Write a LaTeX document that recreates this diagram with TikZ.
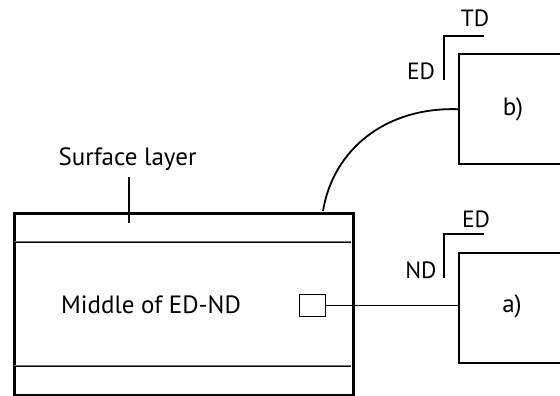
\documentclass[tikz,border=0pt]{standalone}
\usepackage{fontspec}
\setmainfont{PT Sans}
\begin{document}
\begin{tikzpicture}[x=1pt,y=-1pt,
  big/.style={font=\fontsize{25}{30}\selectfont, inner sep=0pt, anchor=base},
  lbl/.style={font=\fontsize{23.5}{28}\selectfont, inner sep=0pt, anchor=base},
  plbl/.style={font=\fontsize{25}{30}\selectfont, inner sep=0pt, anchor=base},
  thin/.style={line width=1.8pt},
  panel/.style={draw, line width=2.4pt, rectangle, inner sep=0pt},
]
\useasboundingbox (0,0) rectangle (560,396);
\clip (0,0) rectangle (560,396);
\fill[white] (0,0) rectangle (560,396);
% big box
\node[draw, line width=3.4pt, rectangle, inner sep=0pt, minimum width=339pt, minimum height=182pt, anchor=north west] (bigbox) at (13,212) {};
\draw[line width=2.2pt, black!55] (14,242) -- (351,242);
\draw[line width=0.9pt, black] (14,242) -- (351,242);
\draw[line width=2.2pt, black!55] (14,366) -- (351,366);
\draw[line width=0.9pt, black] (14,366) -- (351,366);
\node[big] (mid) at (151,313) {Middle of ED-ND};
\node[big] (surf) at (127.5,165) {Surface layer};
\coordinate (sa) at (129,177);
\coordinate (sb) at (129,223);
\draw[thin] (sa) -- (sb);
% small square
\node[draw, line width=1.8pt, rectangle, inner sep=0pt, minimum width=26pt, minimum height=22pt] (sq) at (312.5,305.5) {};
% panel a
\node[panel, minimum width=160pt, minimum height=110pt, anchor=north west] (pa) at (458,252) {};
\node[plbl] (la) at (512,312) {a)};
% panel b
\node[panel, minimum width=160pt, minimum height=110pt, anchor=north west] (pb) at (458,53) {};
\node[plbl] (lb) at (513,115) {b)};
% connectors
\draw[thin] (sq.east) -- (pa.west |- sq.east);
\coordinate (cs) at (323,211);
\draw[line width=1.8pt] (cs) .. controls (333,150) and (385,107) .. (pb.west);
% brackets
\coordinate (ba1) at (444,278);
\coordinate (ba2) at (444,234);
\coordinate (ba3) at (484,234);
\draw[thin] (ba1) -- (ba2) -- (ba3);
\node[lbl] (ed1) at (476,227) {ED};
\node[lbl] (nd1) at (421,278) {ND};
\coordinate (bb1) at (444,80);
\coordinate (bb2) at (444,36);
\coordinate (bb3) at (484,36);
\draw[thin] (bb1) -- (bb2) -- (bb3);
\node[lbl] (td) at (475,27) {TD};
\node[lbl] (ed2) at (421,80) {ED};
\end{tikzpicture}
\end{document}
